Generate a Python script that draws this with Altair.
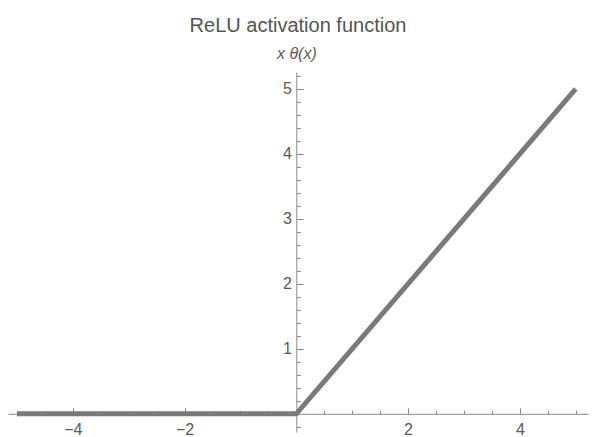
import altair as alt
import pandas as pd

# ---- data ----
x_vals = [-5, 0, 5]
y_vals = [0, 0, 5]

x_major = [-4, -2, 2, 4]
x_minor = [-5, -4.5, -3.5, -3, -2.5, -1.5, -1, -0.5, 0.5, 1, 1.5, 2.5, 3, 3.5, 4.5, 5]
y_major = [1, 2, 3, 4, 5]
y_minor = [-0.2, 0.2, 0.4, 0.6, 0.8, 1.2, 1.4, 1.6, 1.8, 2.2, 2.4, 2.6, 2.8,
           3.2, 3.4, 3.6, 3.8, 4.2, 4.4, 4.6, 4.8, 5.2]

x_domain = [-5.16, 5.22]
y_domain = [-0.28, 5.26]

df = pd.DataFrame({"x": x_vals, "y": y_vals})

# ---- layout ----
W, H = 580, 360
x0 = W * (0 - x_domain[0]) / (x_domain[1] - x_domain[0])   # pixel of x=0
y0 = H * (y_domain[1] - 0) / (y_domain[1] - y_domain[0])   # pixel of y=0 from top

FONT = "Liberation Sans"
AXC = "#8a8a8a"
LBC = "#5a5a5a"
LINE = "#7a7a7a"

xs = alt.Scale(domain=x_domain, nice=False, zero=False)
ys = alt.Scale(domain=y_domain, nice=False, zero=False)


def layer(xaxis, yaxis, opacity):
    return alt.Chart(df).mark_line(color=LINE, strokeWidth=5, opacity=opacity).encode(
        x=alt.X("x:Q", scale=xs, axis=xaxis),
        y=alt.Y("y:Q", scale=ys, axis=yaxis),
    )


major = layer(
    alt.Axis(orient="top", offset=-y0, values=x_major, labels=False, tickSize=6,
             tickColor=AXC, domainColor=AXC, grid=False, title=None),
    alt.Axis(orient="right", offset=-(W - x0), values=y_major, labels=False, tickSize=7,
             tickColor=AXC, domainColor=AXC, grid=False,
             title="x θ(x)", titleAngle=0, titleX=0, titleY=-14, titleAlign="center",
             titleBaseline="alphabetic", titleFontStyle="italic", titleFont=FONT,
             titleFontSize=16, titleFontWeight="normal", titleColor=LBC),
    1,
)

minor = layer(
    alt.Axis(orient="top", offset=-y0, values=x_minor, labels=False, tickSize=3.5,
             tickColor=AXC, domain=False, grid=False, title=None),
    alt.Axis(orient="right", offset=-(W - x0), values=y_minor, labels=False, tickSize=4,
             tickColor=AXC, domain=False, grid=False, title=None),
    0,
)

labels = layer(
    alt.Axis(orient="bottom", offset=-(H - y0), values=x_major, ticks=False, tickSize=0,
             domain=False, grid=False, title=None, labelPadding=8, labelFontSize=16,
             labelFont=FONT, labelColor=LBC, labelFlush=False, labelOverlap=False),
    alt.Axis(orient="left", offset=-x0, values=y_major, ticks=False, tickSize=0,
             domain=False, grid=False, title=None, labelPadding=5, labelFontSize=16,
             labelFont=FONT, labelColor=LBC, labelFlush=False, labelOverlap=False),
    0,
)

chart = (
    alt.layer(major, minor, labels)
    .resolve_axis(x="independent", y="independent")
    .properties(
        width=W,
        height=H,
        title=alt.TitleParams("ReLU activation function", fontSize=20, font=FONT,
                              fontWeight="normal", color="#555555", anchor="middle",
                              frame="group", offset=9),
        autosize=alt.AutoSizeParams(type="none"),
        padding={"left": 0, "top": 64, "right": 7, "bottom": 10},
    )
    .configure_view(stroke="transparent")
)

chart.save("out.html", embed_options={"renderer": "svg", "actions": False})
